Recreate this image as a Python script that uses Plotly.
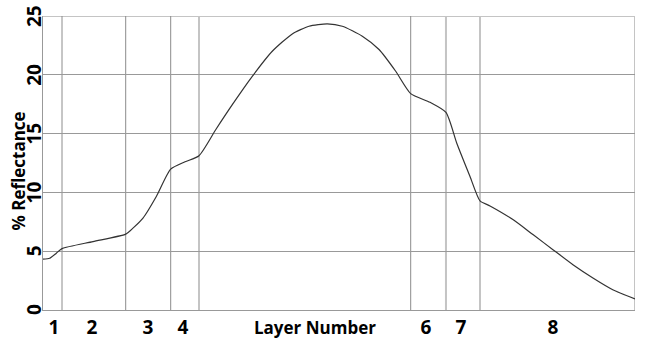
import plotly.graph_objects as go

# Curve: position along the stack (0-100 scale) and % reflectance
pos = [0, 1.13, 2.25, 3.21, 8.45, 13.97, 15.2, 16.89, 19.14, 21.57, 24.0,
       26.35, 29.17, 31.98, 35.35, 38.73, 42.11, 44.93, 48.02, 50.56, 53.94,
       56.76, 59.58, 62.11, 65.37, 68.07, 69.88, 72.13, 73.82, 75.51, 79.44,
       82.82, 86.2, 89.58, 92.96, 96.33, 100]
refl = [4.32, 4.4, 4.83, 5.22, 5.82, 6.45, 6.96, 7.81, 9.65, 11.98, 12.6,
        13.12, 15.33, 17.46, 19.87, 22.0, 23.48, 24.13, 24.33, 24.13, 23.28,
        22.15, 20.3, 18.4, 17.66, 16.8, 14.2, 11.35, 9.28, 8.85, 7.67,
        6.39, 5.11, 3.83, 2.7, 1.7, 0.94]

# Layer boundaries
bounds_dark = [3.21, 13.97, 21.57, 62.11]
bounds_light = [26.35, 68.07, 73.82]

# Layer labels
label_pos = [1.86, 8.28, 17.74, 23.65, 64.7, 70.6, 86.15]
label_txt = ["1", "2", "3", "4", "6", "7", "8"]

y_ticks = [0, 5, 10, 15, 20, 25]

FONT = "Open Sans"

fig = go.Figure()
fig.add_trace(go.Scatter(x=pos, y=refl, mode="lines",
                         line=dict(color="#333333", width=1.2, shape="spline", smoothing=0.6),
                         hoverinfo="skip", showlegend=False))

shapes = []
for b in bounds_dark:
    shapes.append(dict(type="line", xref="x", yref="y", x0=b, x1=b, y0=0, y1=25,
                       line=dict(color="#8c8c8c", width=1), layer="below"))
for b in bounds_light:
    shapes.append(dict(type="line", xref="x", yref="y", x0=b, x1=b, y0=0, y1=25,
                       line=dict(color="#c4c4c4", width=2), layer="below"))
# top and right frame
shapes.append(dict(type="line", xref="paper", yref="y", x0=0, x1=1, y0=25, y1=25,
                   line=dict(color="#c4c4c4", width=2), layer="below"))
shapes.append(dict(type="line", xref="x", yref="paper", x0=100, x1=100, y0=0, y1=1,
                   line=dict(color="#c4c4c4", width=2), layer="below"))

annotations = []
# rotated y tick labels
for v in y_ticks:
    annotations.append(dict(text="<b>%d</b>" % v, x=0, xref="paper", y=v, yref="y",
                            xanchor="center", yanchor="middle", xshift=-9,
                            textangle=-90, showarrow=False,
                            font=dict(family=FONT, size=19, color="black")))
# y axis title
annotations.append(dict(text="<b>% Reflectance</b>", x=0, xref="paper", y=0.471, yref="paper",
                        xanchor="center", yanchor="middle", xshift=-24,
                        textangle=-90, showarrow=False,
                        font=dict(family=FONT, size=17, color="black")))
# x axis title
annotations.append(dict(text="<b>Layer Number</b>", x=45.9, xref="x", y=0, yref="paper",
                        yanchor="top", yshift=-5, showarrow=False, borderpad=0,
                        font=dict(family=FONT, size=17, color="black")))

fig.update_layout(
    width=649, height=339,
    margin=dict(l=43, r=14, t=16, b=29),
    paper_bgcolor="white", plot_bgcolor="white",
    shapes=shapes,
    annotations=annotations,
    xaxis=dict(range=[0, 100], tickvals=label_pos, ticktext=label_txt,
               showgrid=False, zeroline=False, showline=True, linecolor="#999999",
               linewidth=1, ticks="", ticklen=0, automargin=False,
               tickfont=dict(family=FONT, size=19, color="black", weight="bold")),
    yaxis=dict(range=[0, 25], tickvals=y_ticks, showgrid=True, gridcolor="#999999",
               gridwidth=1, zeroline=False, showline=True, linecolor="#999999",
               linewidth=1, ticks="", showticklabels=False, automargin=False),
)

fig.write_html("out.html")
